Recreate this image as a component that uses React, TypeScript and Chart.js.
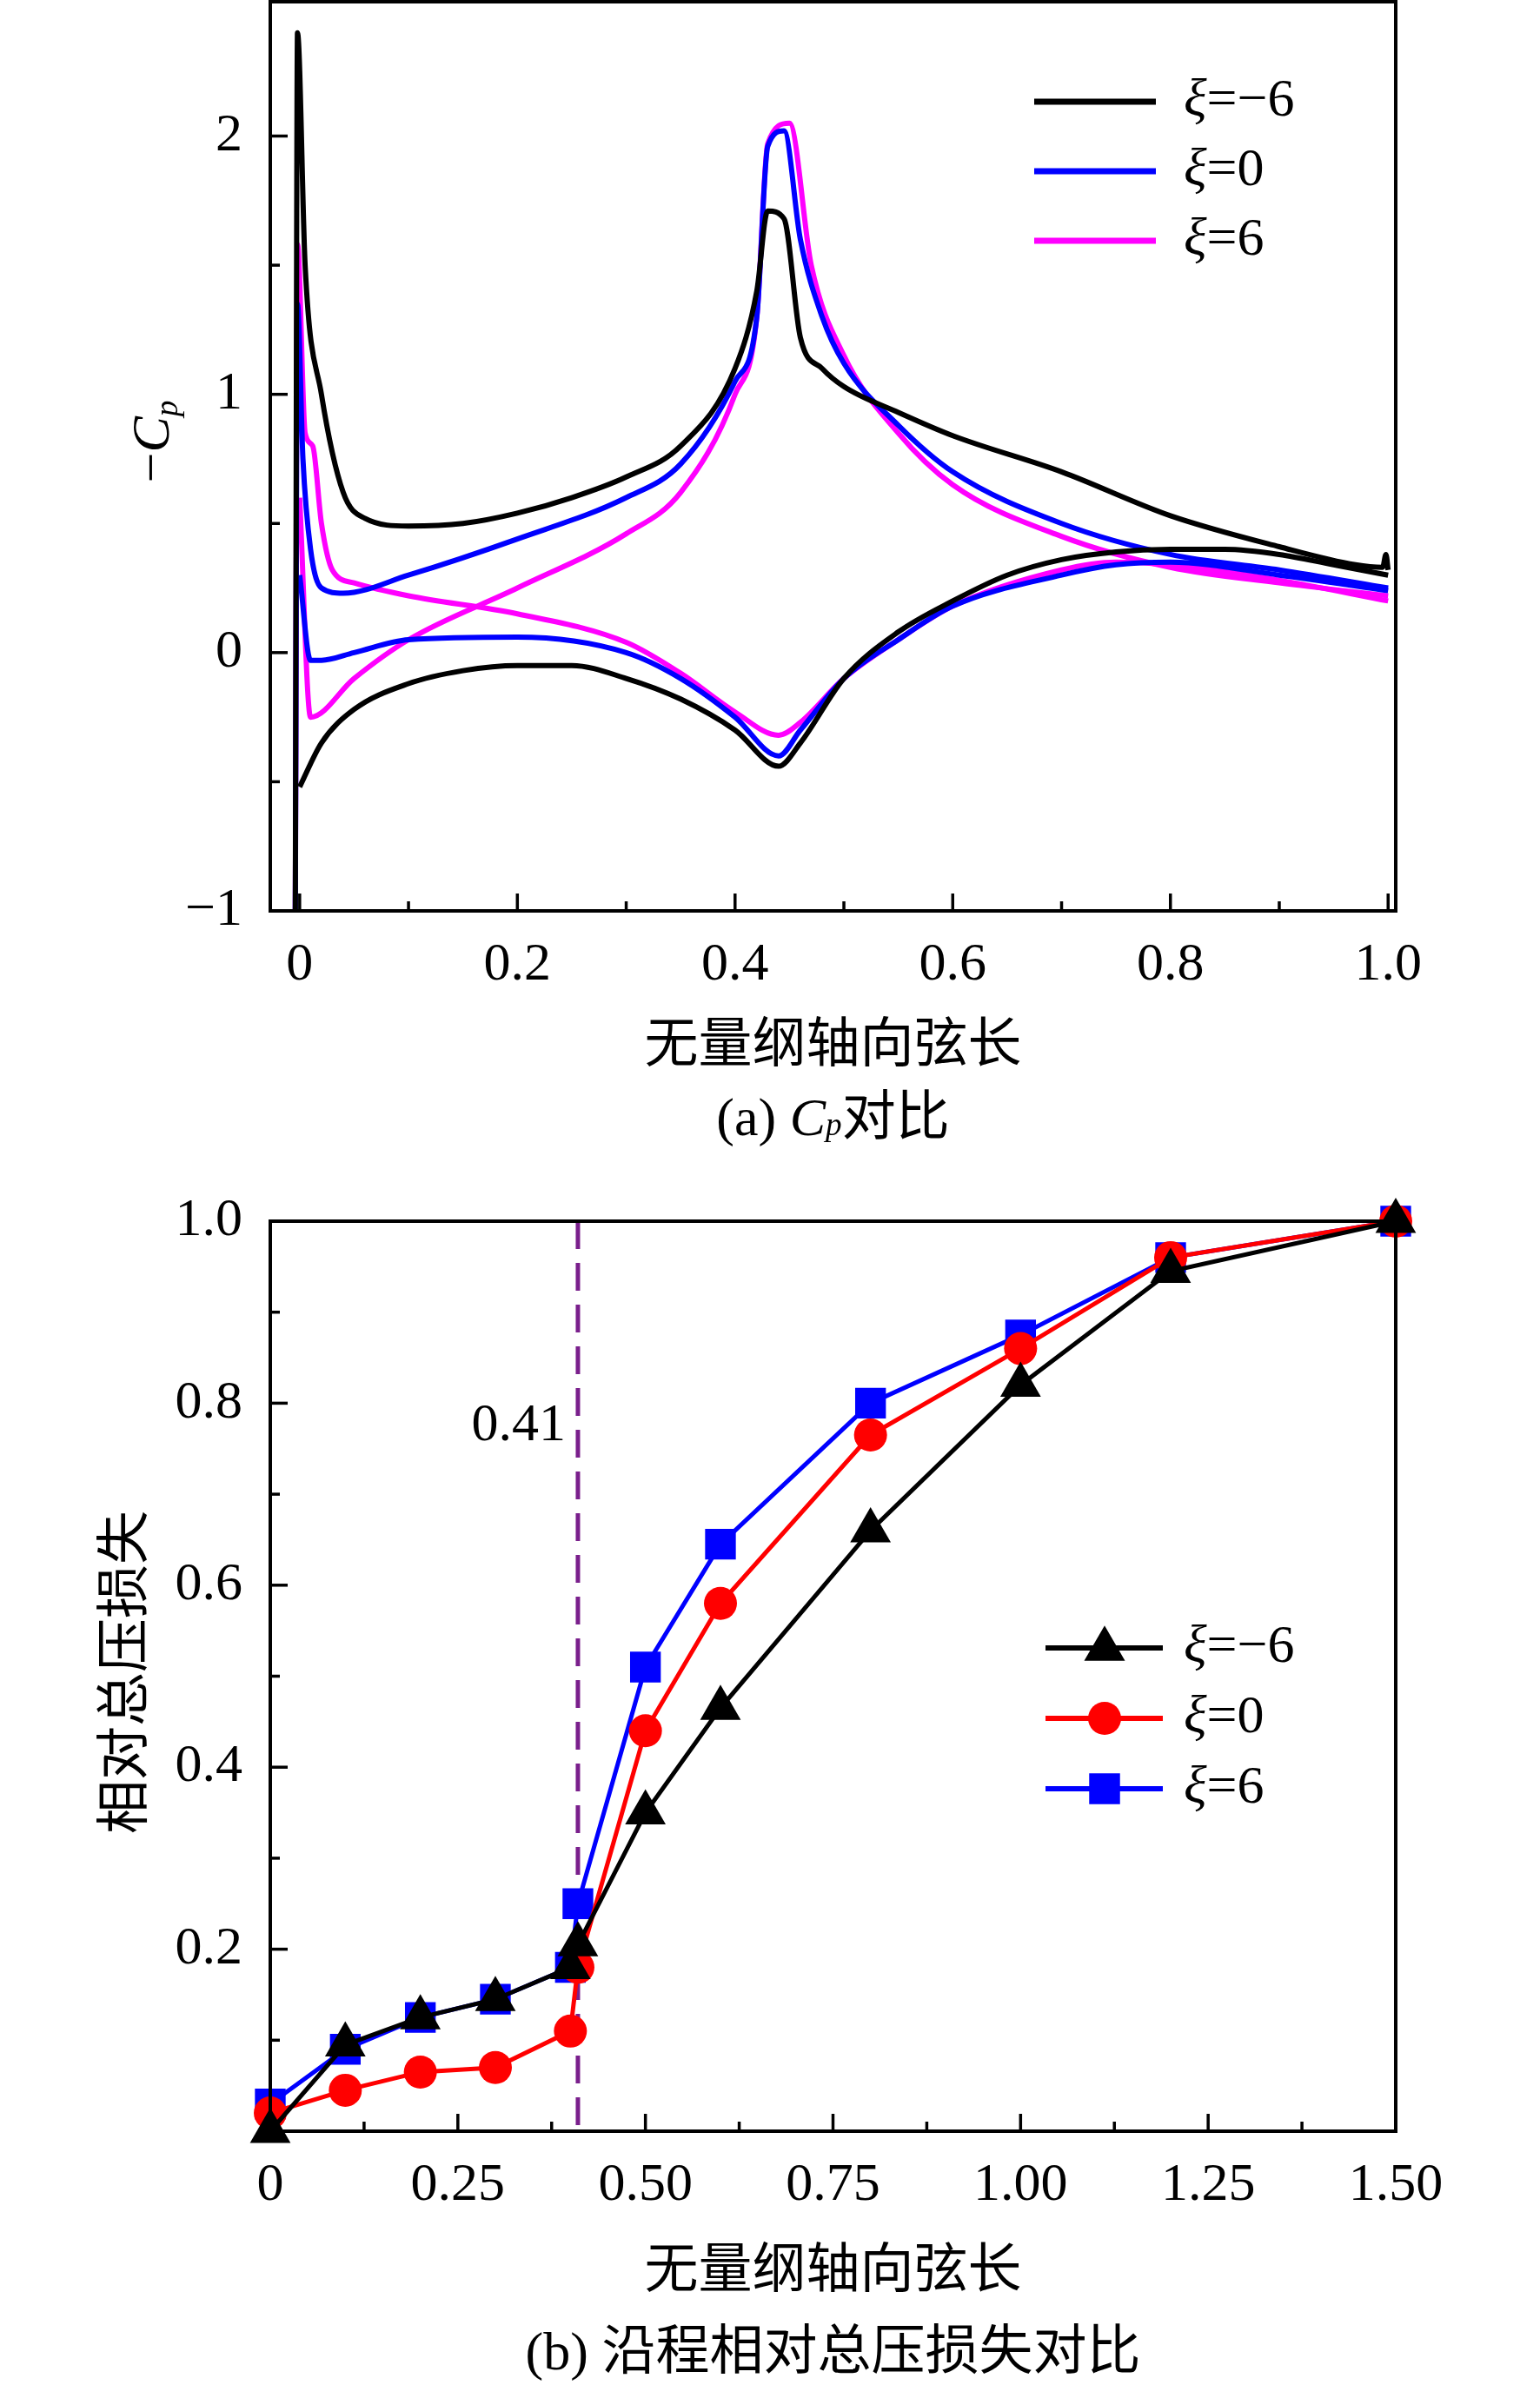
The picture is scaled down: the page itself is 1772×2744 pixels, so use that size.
import React, { useEffect, useRef } from "react";
import { Chart, registerables } from "chart.js";
Chart.register(...registerables);

// ---- Chart (a) data: -Cp along chord ----
const bUpX = [-0.004, -0.002, 0.005, 0.02, 0.04, 0.06, 0.1, 0.15, 0.2, 0.25, 0.3, 0.35, 0.4, 0.42, 0.43, 0.445, 0.46, 0.48, 0.5, 0.55, 0.6, 0.7, 0.8, 0.9, 0.97, 0.995, 0.998, 1.0];
const bUpY = [-1, 2.4, 1.5, 1.0, 0.62, 0.52, 0.49, 0.5, 0.54, 0.6, 0.68, 0.8, 1.1, 1.4, 1.71, 1.68, 1.22, 1.1, 1.03, 0.93, 0.84, 0.7, 0.53, 0.41, 0.34, 0.33, 0.38, 0.32];
const bLoX = [0.0, 0.02, 0.05, 0.1, 0.15, 0.2, 0.25, 0.3, 0.35, 0.4, 0.44, 0.46, 0.5, 0.55, 0.6, 0.65, 0.7, 0.75, 0.8, 0.85, 0.9, 0.95, 1.0];
const bLoY = [-0.52, -0.35, -0.22, -0.12, -0.07, -0.05, -0.05, -0.1, -0.18, -0.3, -0.44, -0.35, -0.1, 0.08, 0.2, 0.3, 0.36, 0.39, 0.4, 0.4, 0.38, 0.34, 0.3];
const uUpX = [-0.004, -0.002, 0.003, 0.01, 0.02, 0.04, 0.1, 0.2, 0.3, 0.35, 0.4, 0.42, 0.43, 0.445, 0.46, 0.48, 0.5, 0.55, 0.6, 0.7, 0.8, 0.9, 1.0];
const uUpY = [-1, 1.35, 0.75, 0.4, 0.25, 0.23, 0.3, 0.44, 0.6, 0.73, 1.05, 1.3, 1.96, 2.02, 1.6, 1.3, 1.12, 0.88, 0.7, 0.5, 0.38, 0.32, 0.25];
const uLoX = [0.0, 0.01, 0.02, 0.05, 0.1, 0.2, 0.3, 0.35, 0.4, 0.44, 0.46, 0.5, 0.55, 0.6, 0.7, 0.75, 0.8, 0.9, 1.0];
const uLoY = [0.3, -0.03, -0.03, 0.0, 0.05, 0.06, 0.0, -0.1, -0.25, -0.4, -0.3, -0.1, 0.05, 0.18, 0.3, 0.34, 0.35, 0.3, 0.24];
const mAX = [-0.004, -0.002, 0.005, 0.012, 0.02, 0.03, 0.05, 0.1, 0.2, 0.3, 0.35, 0.4, 0.44, 0.46, 0.5, 0.55, 0.6, 0.7, 0.75, 0.8, 0.9, 1.0];
const mAY = [-1, 1.58, 0.85, 0.8, 0.5, 0.32, 0.27, 0.22, 0.15, 0.04, -0.08, -0.23, -0.32, -0.27, -0.1, 0.05, 0.18, 0.32, 0.35, 0.34, 0.28, 0.2];
const mBX = [0.0, 0.01, 0.05, 0.1, 0.2, 0.3, 0.35, 0.4, 0.42, 0.43, 0.45, 0.47, 0.5, 0.55, 0.6, 0.7, 0.8, 0.9, 1.0];
const mBY = [0.6, -0.25, -0.1, 0.05, 0.25, 0.46, 0.62, 1.0, 1.3, 1.97, 2.05, 1.5, 1.15, 0.85, 0.65, 0.45, 0.33, 0.27, 0.22];

// ---- Chart (b) data: relative total pressure loss ----
const lossX = [0, 0.1, 0.2, 0.3, 0.4, 0.41, 0.5, 0.6, 0.8, 1.0, 1.2, 1.5];
const lossNeg6 = [0.0, 0.095, 0.125, 0.145, 0.18, 0.205, 0.35, 0.465, 0.66, 0.82, 0.945, 1.0];
const loss0 = [0.02, 0.045, 0.065, 0.07, 0.11, 0.18, 0.44, 0.58, 0.765, 0.86, 0.96, 1.0];
const loss6 = [0.03, 0.09, 0.125, 0.145, 0.18, 0.25, 0.51, 0.645, 0.8, 0.875, 0.96, 1.0];

const legendLabels = ["=\u22126", "=0", "=6"];
const topXTicks = [0, 0.2, 0.4, 0.6, 0.8, 1.0];
const topYTicks = [-1, 0, 1, 2];
const botXTicks = [0, 0.25, 0.5, 0.75, 1.0, 1.25, 1.5];
const botYTicks = [0.2, 0.4, 0.6, 0.8, 1.0];

const SERIF = "'Liberation Serif', 'DejaVu Serif', serif";
const CJK = "'Noto Sans CJK SC', sans-serif";
const FS = 62;

const pts = (xs: number[], ys: number[]) => xs.map((x, i) => ({ x, y: ys[i] }));

function frameTicks(chart: any, xMinor: number[], yMinor: number[]) {
  const ctx = chart.ctx;
  const a = chart.chartArea;
  const xs = chart.scales.x, ys = chart.scales.y;
  ctx.save();
  ctx.strokeStyle = "#000";
  ctx.lineWidth = 4;
  ctx.strokeRect(a.left, a.top, a.right - a.left, a.bottom - a.top);
  ctx.lineWidth = 3.5;
  const maj = 20, mn = 11;
  xs.ticks.forEach((t: any) => { const p = xs.getPixelForValue(t.value); ctx.beginPath(); ctx.moveTo(p, a.bottom); ctx.lineTo(p, a.bottom - maj); ctx.stroke(); });
  xMinor.forEach(v => { const p = xs.getPixelForValue(v); ctx.beginPath(); ctx.moveTo(p, a.bottom); ctx.lineTo(p, a.bottom - mn); ctx.stroke(); });
  ys.ticks.forEach((t: any) => { const p = ys.getPixelForValue(t.value); ctx.beginPath(); ctx.moveTo(a.left, p); ctx.lineTo(a.left + maj, p); ctx.stroke(); });
  yMinor.forEach(v => { const p = ys.getPixelForValue(v); ctx.beginPath(); ctx.moveTo(a.left, p); ctx.lineTo(a.left + mn, p); ctx.stroke(); });
  ctx.restore();
}

function legendText(ctx: any, x: number, y: number, label: string) {
  ctx.textBaseline = "middle";
  ctx.textAlign = "left";
  ctx.fillStyle = "#000";
  ctx.font = `italic ${FS}px ${SERIF}`;
  ctx.fillText("\u03BE", x, y);
  const w = ctx.measureText("\u03BE").width;
  ctx.font = `${FS}px ${SERIF}`;
  ctx.fillText(label, x + w, y);
}

function drawMarker(ctx: any, kind: string, x: number, y: number, r: number, color: string) {
  ctx.fillStyle = color;
  ctx.beginPath();
  if (kind === "triangle") { ctx.moveTo(x, y - r * 0.95); ctx.lineTo(x + r * 0.87, y + r * 0.55); ctx.lineTo(x - r * 0.87, y + r * 0.55); ctx.closePath(); }
  else if (kind === "circle") ctx.arc(x, y, r, 0, Math.PI * 2);
  else ctx.rect(x - r * 0.71, y - r * 0.71, r * 1.42, r * 1.42);
  ctx.fill();
}

const noPadY = (w: number) => (s: any) => { s.width = w; s.paddingTop = 0; s.paddingBottom = 0; };
const noPadX = (h: number) => (s: any) => { s.height = h; s.paddingLeft = 0; s.paddingRight = 0; };

function TopChart() {
  const ref = useRef<HTMLCanvasElement>(null);
  useEffect(() => {
    const colors = ["#000000", "#0000ff", "#ff00ff"];
    const mk = (d: any, c: string) => ({ data: d, borderColor: c, backgroundColor: c, borderWidth: 6, pointRadius: 0, showLine: true, tension: 0.3, cubicInterpolationMode: "monotone" as any });
    const plugin = {
      id: "deco",
      afterDraw(chart: any) {
        frameTicks(chart, [0.1, 0.3, 0.5, 0.7, 0.9], [-0.5, 0.5, 1.5]);
        const ctx = chart.ctx;
        ctx.save();
        legendLabels.forEach((l, i) => {
          const y = 117 + i * 80;
          ctx.strokeStyle = colors[i]; ctx.lineWidth = 7;
          ctx.beginPath(); ctx.moveTo(1190, y); ctx.lineTo(1330, y); ctx.stroke();
          legendText(ctx, 1362, y, l);
        });
        ctx.translate(178, 508);
        ctx.rotate(-Math.PI / 2);
        ctx.textBaseline = "middle"; ctx.textAlign = "left"; ctx.fillStyle = "#000";
        ctx.font = `${FS}px ${SERIF}`;
        const w1 = ctx.measureText("\u2212").width;
        ctx.font = `italic ${FS}px ${SERIF}`;
        const w2 = ctx.measureText("C").width;
        ctx.font = `italic ${FS * 0.6}px ${SERIF}`;
        const w3 = ctx.measureText("p").width;
        const x0 = -(w1 + w2 + w3) / 2;
        ctx.font = `${FS}px ${SERIF}`; ctx.fillText("\u2212", x0, 0);
        ctx.font = `italic ${FS}px ${SERIF}`; ctx.fillText("C", x0 + w1, 0);
        ctx.font = `italic ${FS * 0.6}px ${SERIF}`; ctx.fillText("p", x0 + w1 + w2, 16);
        ctx.restore();
      },
    };
    const chart = new Chart(ref.current!, {
      type: "scatter",
      data: { datasets: [mk(pts(bUpX, bUpY), colors[0]), mk(pts(bLoX, bLoY), colors[0]), mk(pts(uUpX, uUpY), colors[1]), mk(pts(uLoX, uLoY), colors[1]), mk(pts(mAX, mAY), colors[2]), mk(pts(mBX, mBY), colors[2])] },
      options: {
        animation: false, responsive: false,
        layout: { padding: { left: 0, top: 2, right: 166, bottom: 0 } },
        plugins: { legend: { display: false }, tooltip: { enabled: false } },
        scales: {
          x: {
            type: "linear", min: -0.027, max: 1.007,
            afterBuildTicks: (s: any) => { s.ticks = topXTicks.map(v => ({ value: v })); },
            afterFit: noPadX(1240 - 1048),
            grid: { display: false }, border: { display: false },
            ticks: { color: "#000", font: { family: SERIF, size: FS }, padding: 18, maxRotation: 0, callback: (v: any) => (v === 0 ? "0" : Number(v).toFixed(1)) },
            title: { display: true, text: "无量纲轴向弦长", color: "#000", font: { family: CJK, size: FS }, padding: { top: 4 } },
          },
          y: {
            min: -1, max: 2.52,
            afterBuildTicks: (s: any) => { s.ticks = topYTicks.map(v => ({ value: v })); },
            afterFit: noPadY(311),
            grid: { display: false }, border: { display: false },
            ticks: { color: "#000", font: { family: SERIF, size: FS }, padding: 24, callback: (v: any) => (v < 0 ? "\u2212" + Math.abs(v) : String(v)) },
          },
        },
      },
      plugins: [plugin],
    });
    return () => chart.destroy();
  }, []);
  return <canvas ref={ref} width={1772} height={1240} style={{ position: "absolute", left: 0, top: 0 }} />;
}

function BottomChart() {
  const ref = useRef<HTMLCanvasElement>(null);
  useEffect(() => {
    const cfg = [
      { d: lossNeg6, c: "#000000", s: "triangle", r: 27 },
      { d: loss0, c: "#ff0000", s: "circle", r: 19 },
      { d: loss6, c: "#0000ff", s: "rect", r: 25 },
    ];
    const plugin = {
      id: "deco2",
      beforeDatasetsDraw(chart: any) {
        const ctx = chart.ctx, a = chart.chartArea;
        const px = chart.scales.x.getPixelForValue(0.41);
        ctx.save();
        ctx.strokeStyle = "#7a1f8c"; ctx.lineWidth = 5; ctx.setLineDash([32, 16]);
        ctx.beginPath(); ctx.moveTo(px, a.top); ctx.lineTo(px, a.bottom); ctx.stroke();
        ctx.setLineDash([]);
        ctx.fillStyle = "#000"; ctx.font = `${FS}px ${SERIF}`; ctx.textAlign = "right"; ctx.textBaseline = "middle";
        ctx.fillText("0.41", px - 14, chart.scales.y.getPixelForValue(0.775));
        ctx.restore();
      },
      afterDraw(chart: any) {
        frameTicks(chart, [0.125, 0.375, 0.625, 0.875, 1.125, 1.375], [0.1, 0.3, 0.5, 0.7, 0.9]);
        const ctx = chart.ctx;
        ctx.save();
        cfg.forEach((c, i) => {
          const y = 1896 - 1340 + i * 81;
          ctx.strokeStyle = c.c; ctx.lineWidth = 6;
          ctx.beginPath(); ctx.moveTo(1203, y); ctx.lineTo(1338, y); ctx.stroke();
          drawMarker(ctx, c.s, 1271, y, c.r, c.c);
          legendText(ctx, 1362, y, legendLabels[i]);
        });
        ctx.translate(140, 1924 - 1340);
        ctx.rotate(-Math.PI / 2);
        ctx.fillStyle = "#000"; ctx.font = `${FS}px ${CJK}`; ctx.textAlign = "center"; ctx.textBaseline = "middle";
        ctx.fillText("相对总压损失", 0, 0);
        ctx.restore();
      },
    };
    const chart = new Chart(ref.current!, {
      type: "scatter",
      data: {
        datasets: cfg.map(c => ({
          data: pts(lossX, c.d), borderColor: c.c, backgroundColor: c.c, borderWidth: 5, showLine: true,
          pointStyle: c.s as any, pointRadius: c.r, pointBorderWidth: 0, clip: false as any,
        })),
      },
      options: {
        animation: false, responsive: false,
        layout: { padding: { left: 0, top: 65, right: 166, bottom: 0 } },
        plugins: { legend: { display: false }, tooltip: { enabled: false } },
        scales: {
          x: {
            type: "linear", min: 0, max: 1.5,
            afterBuildTicks: (s: any) => { s.ticks = botXTicks.map(v => ({ value: v })); },
            afterFit: noPadX(1310 - 1112),
            grid: { display: false }, border: { display: false },
            ticks: { color: "#000", font: { family: SERIF, size: FS }, padding: 18, maxRotation: 0, callback: (v: any) => (v === 0 ? "0" : Number(v).toFixed(2)) },
            title: { display: true, text: "无量纲轴向弦长", color: "#000", font: { family: CJK, size: FS }, padding: { top: 4 } },
          },
          y: {
            min: 0, max: 1.0,
            afterBuildTicks: (s: any) => { s.ticks = botYTicks.map(v => ({ value: v })); },
            afterFit: noPadY(311),
            grid: { display: false }, border: { display: false },
            ticks: { color: "#000", font: { family: SERIF, size: FS }, padding: 24, callback: (v: any) => Number(v).toFixed(1) },
          },
        },
      },
      plugins: [plugin],
    });
    return () => chart.destroy();
  }, []);
  return <canvas ref={ref} width={1772} height={1310} style={{ position: "absolute", left: 0, top: 1340 }} />;
}

const captionStyle: React.CSSProperties = { position: "absolute", left: 311, width: 1606 - 311, textAlign: "center", fontSize: FS, lineHeight: 1, color: "#000", fontFamily: SERIF };

export default function App() {
  return (
    <div style={{ position: "absolute", left: 0, top: 0, width: 1772, height: 2744, background: "#fff", overflow: "hidden" }}>
      <TopChart />
      <div style={{ ...captionStyle, top: 1248 }}>
        (a) <i>C</i><i style={{ fontSize: FS * 0.6 }}>p</i><span style={{ fontFamily: CJK }}>对比</span>
      </div>
      <BottomChart />
      <div style={{ ...captionStyle, top: 2668 }}>
        (b) <span style={{ fontFamily: CJK }}>沿程相对总压损失对比</span>
      </div>
    </div>
  );
}
